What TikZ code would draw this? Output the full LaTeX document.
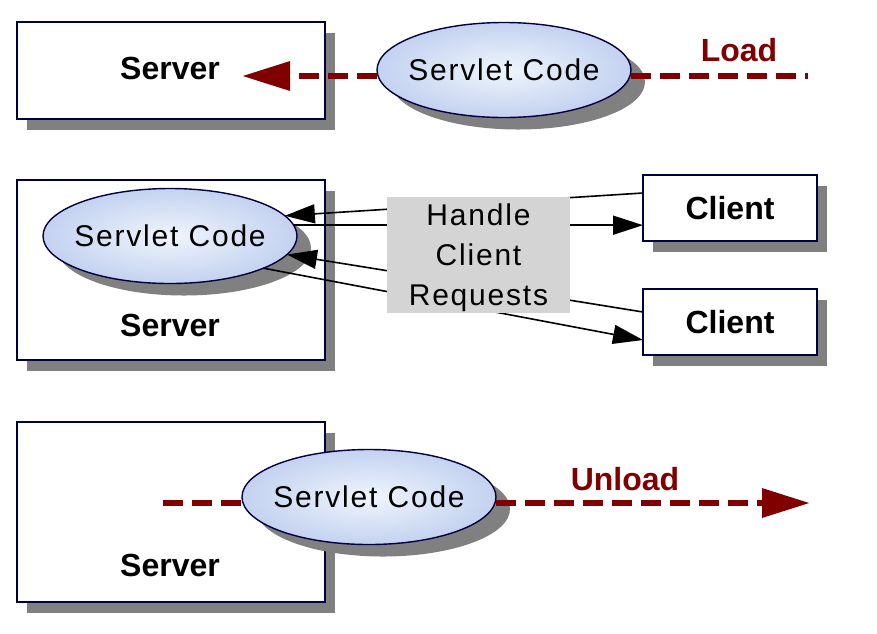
\documentclass[tikz,border=0pt]{standalone}
\usepackage{fontspec}
\setmainfont{Liberation Sans}
\newfontfamily\spacedfont[LetterSpace=6]{Liberation Sans}
\usetikzlibrary{shapes.geometric,arrows.meta,shadows}

\definecolor{navy}{RGB}{0,0,64}
\definecolor{dred}{RGB}{128,0,0}
\definecolor{shadowgray}{RGB}{128,128,128}
\definecolor{ellin}{RGB}{238,245,252}
\definecolor{ellout}{RGB}{196,210,240}
\definecolor{handlegray}{RGB}{212,212,212}

\begin{document}
\begin{tikzpicture}[x=1pt,y=-1pt,
  box/.style={rectangle, draw=navy, line width=1.6pt, fill=white, inner sep=0pt, outer sep=0pt,
    general shadow={fill=shadowgray, shadow xshift=10pt, shadow yshift=-11pt}},
  code/.style={ellipse, draw=navy, line width=1.4pt, inner color=ellin, outer color=ellout,
    minimum width=254pt, minimum height=95pt, inner sep=0pt, outer sep=0pt,
    general shadow={fill=shadowgray, shadow xshift=14pt, shadow yshift=-12pt},
    font=\spacedfont\fontsize{30}{36}\selectfont},
  lbl/.style={inner sep=0pt, font=\bfseries\fontsize{32}{38}\selectfont},
  redlbl/.style={inner sep=0pt, text=dred, font=\bfseries\fontsize{32}{38}\selectfont},
  redline/.style={draw=dred, line width=6.5pt, dash pattern=on 20pt off 9pt},
  redtip/.style={-{Triangle[length=48pt,width=28pt]}},
  conn/.style={draw=black, line width=1.6pt, -{Triangle[length=30pt,width=19pt]}},
  handle/.style={rectangle, fill=handlegray, inner sep=0pt, minimum width=183pt, minimum height=116pt,
    align=center, text depth=0pt, font=\spacedfont\fontsize{30}{40}\selectfont}
]
\useasboundingbox (0,0) rectangle (877,633);

% ---------- top: load ----------
\node[box, minimum width=308pt, minimum height=97pt] (s1) at (171,70.5) {};
\node[lbl] (s1t) at (170,68) {Server};
\node[code] (e1) at (504,70) {\makebox[0pt]{Servlet Code}};
\coordinate (loadend) at (808,76);
\coordinate (loadtip) at (242,76);
\draw[redline] (e1.east |- loadend) -- (loadend);
\draw[redline, redtip] (e1.west |- loadtip) -- (loadtip);
\node[redlbl] (load) at (739,50) {Load};

% ---------- middle: handle requests ----------
\node[box, minimum width=308pt, minimum height=180pt] (s2) at (171,270) {};
\node[lbl] (s2t) at (170,325) {Server};
\node[code] (e2) at (170,236) {\makebox[0pt]{Servlet Code}};
\node[box, minimum width=174pt, minimum height=66pt, font=\bfseries\fontsize{32}{38}\selectfont] (c1) at (730,208) {Client};
\node[box, minimum width=174pt, minimum height=66pt, font=\bfseries\fontsize{32}{38}\selectfont] (c2) at (730,322) {Client};
\draw[conn] ([yshift=15pt]c1.west) -- (e2.10);
\draw[conn] (e2.5) -- (e2.5 -| c1.west);
\draw[conn] ([yshift=10pt]c2.west) -- (e2.-9);
\draw[conn] (e2.-19) -- ([yshift=-18pt]c2.west);
\node[handle] (h) at (478.5,255) {Handle\\Client\\Requests};

% ---------- bottom: unload ----------
\node[box, minimum width=308pt, minimum height=180pt] (s3) at (171,512) {};
\node[lbl] (s3t) at (170,565) {Server};
\node[code] (e3) at (369,497) {\makebox[0pt]{Servlet Code}};
\coordinate (ustart) at (163,503);
\coordinate (uend) at (810,503);
\draw[redline] (ustart) -- (ustart -| e3.west);
\draw[redline, redtip] (uend -| e3.east) -- (uend);
\node[redlbl] (unload) at (625,479) {Unload};
\end{tikzpicture}
\end{document}
